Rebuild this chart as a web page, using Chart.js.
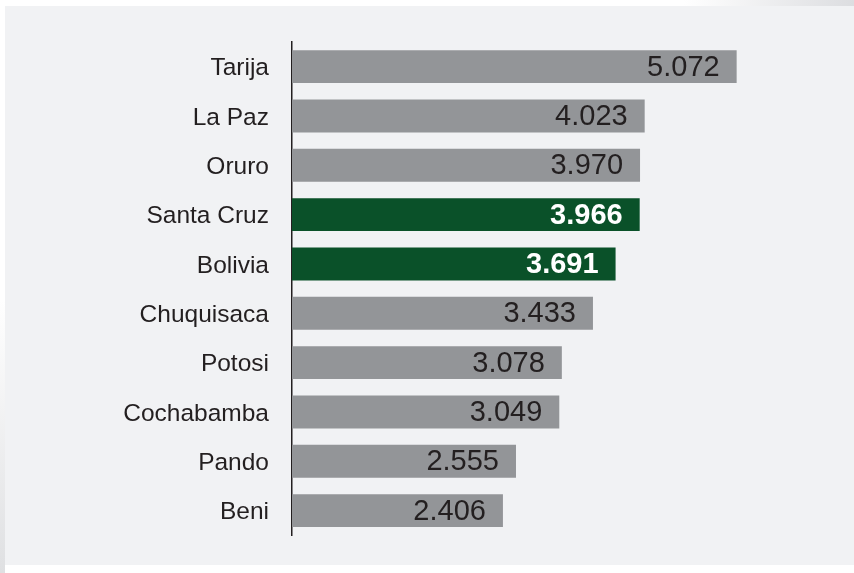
<!DOCTYPE html>
<html>
<head>
<meta charset="utf-8">
<script src="https://cdn.jsdelivr.net/npm/chart.js@4"></script>
<style>
    html, body { margin: 0; padding: 0; background: #ffffff; }
    #wrap { position: relative; width: 854px; height: 573px; overflow: hidden; }
    #panel {
        position: absolute; left: 5px; top: 6px; width: 849px; height: 559px;
        background: #f1f2f4;
    }
    #shade {
        position: absolute; right: 0; top: 0; width: 170px; height: 6px;
        background: linear-gradient(to right, #ffffff, #dcdde0);
    }
    #edge {
        position: absolute; left: 0; top: 300px; width: 5px; height: 273px;
        background: linear-gradient(to bottom, #ffffff, #dfe0e2);
    }
    canvas { position: absolute; left: 0; top: 0; }
</style>
</head>
<body>
<div id="wrap">
    <div id="panel"></div>
    <div id="shade"></div>
    <div id="edge"></div>
    <canvas id="chart" width="854" height="573"></canvas>
</div>
<script>
// Data
const departments = ["Tarija", "La Paz", "Oruro", "Santa Cruz", "Bolivia", "Chuquisaca", "Potosi", "Cochabamba", "Pando", "Beni"];
const values = [5.072, 4.023, 3.970, 3.966, 3.691, 3.433, 3.078, 3.049, 2.555, 2.406];
const valueLabels = ["5.072", "4.023", "3.970", "3.966", "3.691", "3.433", "3.078", "3.049", "2.555", "2.406"];
const highlighted = ["Santa Cruz", "Bolivia"];

const GREY = "#939598";
const GREEN = "#0a5129";
const TEXT = "#231f20";
const FONT = "'Liberation Sans', Arial, sans-serif";

// Value labels drawn inside the bar end
const valueLabelPlugin = {
    id: "valueLabels",
    afterDatasetsDraw(chart) {
        const ctx = chart.ctx;
        const meta = chart.getDatasetMeta(0);
        ctx.save();
        ctx.textAlign = "right";
        ctx.textBaseline = "middle";
        meta.data.forEach((bar, i) => {
            const isHi = highlighted.includes(departments[i]);
            ctx.font = (isHi ? "bold " : "") + "29px " + FONT;
            ctx.fillStyle = isHi ? "#ffffff" : TEXT;
            ctx.fillText(valueLabels[i], bar.x - 17, bar.y + 1);
        });
        ctx.restore();
    },
};

new Chart(document.getElementById("chart"), {
    type: "bar",
    data: {
        labels: departments,
        datasets: [{
            data: values,
            backgroundColor: departments.map((d) => (highlighted.includes(d) ? GREEN : GREY)),
            borderWidth: 0,
            barPercentage: 0.667,
            categoryPercentage: 1,
        }],
    },
    options: {
        indexAxis: "y",
        responsive: false,
        animation: false,
        layout: { padding: { left: 0, right: 36, top: 42, bottom: 36 } },
        plugins: {
            legend: { display: false },
            tooltip: { enabled: false },
        },
        scales: {
            x: { display: false, min: 0, max: 6 },
            y: {
                afterFit: (scale) => { scale.width = 292; },
                grid: { display: false, drawTicks: false },
                border: { display: true, color: TEXT, width: 1.5 },
                ticks: {
                    padding: 23,
                    labelOffset: 2,
                    color: TEXT,
                    font: { family: FONT, size: 24.5 },
                },
            },
        },
    },
    plugins: [valueLabelPlugin],
});
</script>
</body>
</html>
